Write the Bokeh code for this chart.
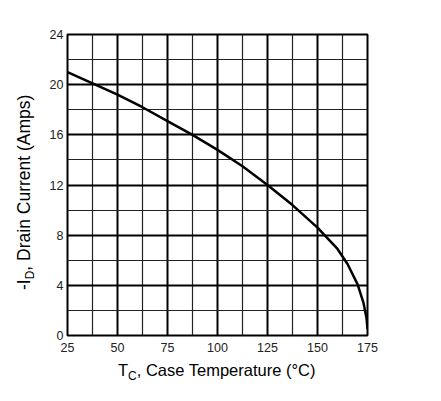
from bokeh.plotting import figure
from bokeh.models import FixedTicker, Range1d, Div
from bokeh.layouts import row, column
from bokeh.embed import file_html
from bokeh.resources import INLINE

# Data
case_temp = [25, 37.5, 50, 62.5, 75, 87.5, 100, 112.5, 125, 137.5, 150, 160, 165, 170, 173, 174.5, 175]
drain_current = [21.0, 20.1, 19.2, 18.2, 17.1, 16.0, 14.8, 13.5, 12.0, 10.4, 8.6, 6.9, 5.7, 4.1, 2.6, 1.4, 0.5]
x_ticks = [25, 50, 75, 100, 125, 150, 175]
y_ticks = [0, 4, 8, 12, 16, 20, 24]
x_title = ("T", "C", ", Case Temperature (\u00b0C)")
y_title = ("-I", "D", ", Drain Current (Amps)")

FONT = "Liberation Sans"

p = figure(frame_width=300, frame_height=301, output_backend="svg", toolbar_location=None,
           x_range=Range1d(25, 175), y_range=Range1d(0, 24),
           min_border_left=19, min_border_right=40, min_border_top=34, min_border_bottom=20)
p.background_fill_color = "white"
p.border_fill_color = "white"
p.outline_line_color = "black"
p.outline_line_width = 2

for ax, ticks in ((p.xaxis[0], x_ticks), (p.yaxis[0], y_ticks)):
    ax.ticker = FixedTicker(ticks=ticks, minor_ticks=[t + (ticks[1] - ticks[0]) / 2 for t in ticks[:-1]])
    ax.axis_line_color = None
    ax.major_tick_line_color = None
    ax.minor_tick_line_color = None
    ax.major_tick_out = 0
    ax.major_tick_in = 0
    ax.minor_tick_out = 0
    ax.major_label_text_font = FONT
    ax.major_label_text_font_size = "12.5px"
    ax.major_label_text_color = "#222222"
p.xaxis.major_label_standoff = 7
p.yaxis.major_label_standoff = 4

for g in (p.xgrid[0], p.ygrid[0]):
    g.grid_line_color = "black"
    g.grid_line_width = 2
    g.grid_line_alpha = 1.0
    g.minor_grid_line_color = "#222222"
    g.minor_grid_line_width = 1.2

p.line(case_temp, drain_current, line_color="black", line_width=2.5)

sub = "<span style='font-size:12px;position:relative;top:4px;'>{}</span>"

x_html = (
    "<div style='position:relative;width:360px;height:40px;'>"
    "<div style='position:absolute;left:72px;top:5px;white-space:nowrap;"
    f"font-family:\"{FONT}\";font-size:16.5px;line-height:20px;color:black;'>"
    f"{x_title[0]}{sub.format(x_title[1])}{x_title[2]}</div></div>"
)
y_html = (
    "<div style='position:relative;width:46px;height:355px;'>"
    "<div style='position:absolute;left:14px;top:290px;white-space:nowrap;"
    "transform:rotate(-90deg);transform-origin:left top;"
    f"font-family:\"{FONT}\";font-size:17.5px;line-height:20px;color:black;'>"
    f"{y_title[0]}{sub.format(y_title[1])}{y_title[2]}</div></div>"
)

xdiv = Div(text=x_html, width=360, height=40, margin=0)
ydiv = Div(text=y_html, width=46, height=355, margin=0)

layout = row(ydiv, column(p, xdiv, spacing=0), spacing=0)

open("out.html", "w").write(file_html(layout, INLINE))
